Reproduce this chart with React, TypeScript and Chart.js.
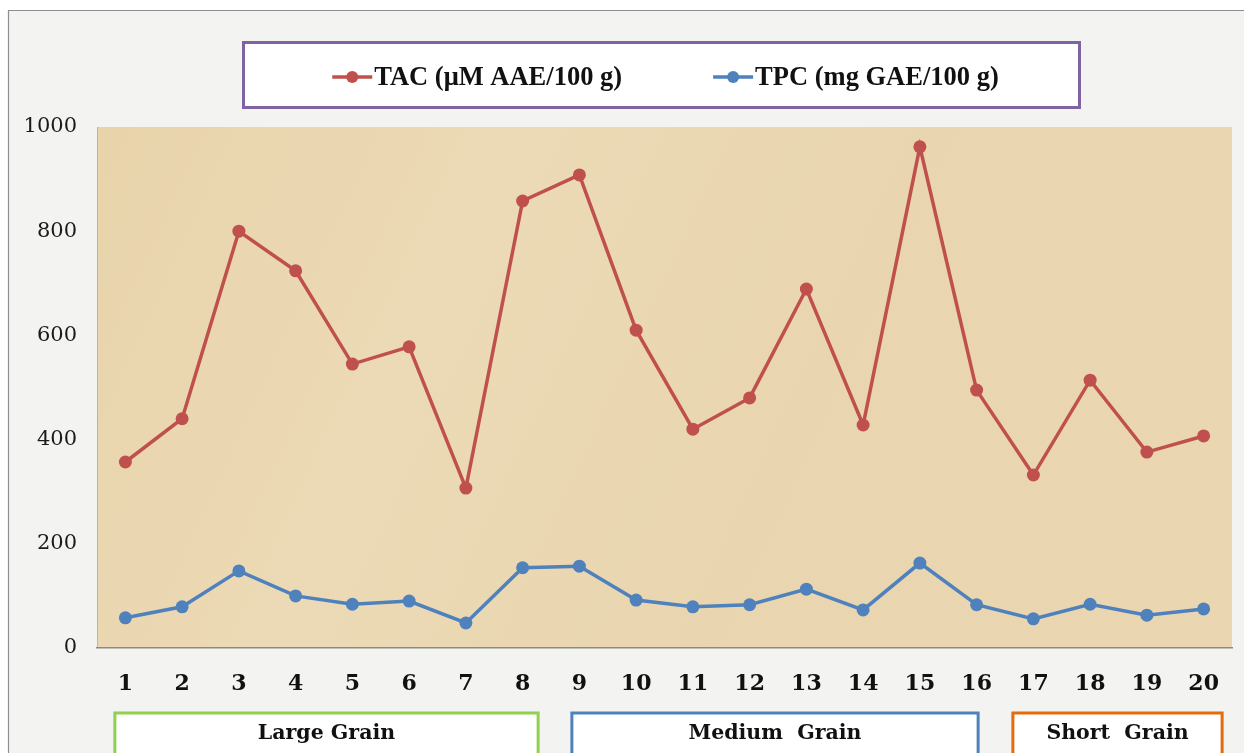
import React, { useEffect, useRef } from "react";
import { Chart, registerables } from "chart.js";

Chart.register(...registerables);

const categories = ["1", "2", "3", "4", "5", "6", "7", "8", "9", "10", "11", "12", "13", "14", "15", "16", "17", "18", "19", "20"];
const tacValues = [357, 440, 800, 724, 545, 578, 307, 858, 908, 610, 420, 480, 689, 428, 962, 495, 332, 514, 376, 407];
const tpcValues = [58, 79, 148, 100, 84, 90, 48, 154, 157, 92, 79, 83, 113, 73, 163, 83, 56, 84, 63, 75];
const yTicks = [0, 200, 400, 600, 800, 1000];
const seriesLabels = ["TAC (μM AAE/100 g)", "TPC (mg GAE/100 g)"];
const groupLabels = ["Large Grain", "Medium  Grain", "Short  Grain"];
const groupFirst = [0, 8, 16];
const groupLast = [7, 15, 19];

const RED = "#C0504D";
const BLUE = "#4F81BD";
const groupStyles = [
  { color: "#92D050", dl: -10.5, dr: 15.5 },
  { color: "#4F81BD", dl: -7.5, dr: 1.5 },
  { color: "#E46C0A", dl: -20.5, dr: 18.5 },
];

const backgroundPlugin = {
  id: "bgPanels",
  beforeDraw(chart: any) {
    const { ctx, chartArea, width, height } = chart;
    ctx.save();
    ctx.fillStyle = "#ffffff";
    ctx.fillRect(0, 0, width, height);
    ctx.fillStyle = "#F3F3F2";
    ctx.fillRect(8, 10, width - 8, height - 10);
    ctx.strokeStyle = "#8E8E8E";
    ctx.lineWidth = 1.2;
    ctx.beginPath();
    ctx.moveTo(8.5, height);
    ctx.lineTo(8.5, 10.5);
    ctx.lineTo(width, 10.5);
    ctx.stroke();
    const g = ctx.createLinearGradient(chartArea.left, chartArea.top, chartArea.right, chartArea.bottom);
    g.addColorStop(0, "#E8D3AA");
    g.addColorStop(0.3, "#ECDAB6");
    g.addColorStop(0.6, "#E9D6B0");
    g.addColorStop(1, "#EAD7B1");
    ctx.fillStyle = g;
    ctx.fillRect(chartArea.left, chartArea.top, chartArea.right - chartArea.left, chartArea.bottom - chartArea.top);
    ctx.strokeStyle = "rgba(190,170,130,0.8)";
    ctx.lineWidth = 1;
    ctx.beginPath();
    ctx.moveTo(chartArea.left + 0.5, chartArea.top);
    ctx.lineTo(chartArea.left + 0.5, chartArea.bottom);
    ctx.stroke();
    ctx.restore();
  },
};

const legendPlugin = {
  id: "boxLegend",
  afterDraw(chart: any) {
    const { ctx, chartArea } = chart;
    ctx.save();
    const cx = (chartArea.left + chartArea.right) / 2;
    const boxW = 836;
    const boxTop = 42.5;
    const boxH = 65;
    ctx.fillStyle = "#ffffff";
    ctx.fillRect(cx - 3 - boxW / 2, boxTop, boxW, boxH);
    ctx.strokeStyle = "#8064A2";
    ctx.lineWidth = 3;
    ctx.strokeRect(cx - 3 - boxW / 2, boxTop, boxW, boxH);

    ctx.font = "bold 26.5px 'Liberation Serif'";
    ctx.textBaseline = "middle";
    ctx.textAlign = "left";
    const lineLen = 40;
    const gapText = 2;
    const gapItem = 91;
    const items = chart.data.datasets.map((ds: any) => ({
      text: ds.label,
      color: ds.borderColor,
      w: ctx.measureText(ds.label).width,
    }));
    let total = 0;
    items.forEach((it: any, i: number) => {
      total += lineLen + gapText + it.w + (i > 0 ? gapItem : 0);
    });
    let x = cx + 1 - total / 2;
    const y = 77;
    items.forEach((it: any) => {
      ctx.strokeStyle = it.color;
      ctx.lineWidth = 3.5;
      ctx.beginPath();
      ctx.moveTo(x, y);
      ctx.lineTo(x + lineLen, y);
      ctx.stroke();
      ctx.fillStyle = it.color;
      ctx.beginPath();
      ctx.arc(x + lineLen / 2, y, 6, 0, Math.PI * 2);
      ctx.fill();
      ctx.fillStyle = "#111111";
      ctx.fillText(it.text, x + lineLen + gapText, y + 1);
      x += lineLen + gapText + it.w + gapItem;
    });
    ctx.restore();
  },
};

const groupPlugin = {
  id: "groupBoxes",
  afterDraw(chart: any) {
    const { ctx } = chart;
    const xs = chart.scales.x;
    ctx.save();
    ctx.font = "bold 20.5px 'DejaVu Serif'";
    ctx.textBaseline = "middle";
    ctx.textAlign = "center";
    groupLabels.forEach((lab, i) => {
      const st = groupStyles[i];
      const l = xs.getPixelForValue(groupFirst[i]) + st.dl;
      const r = xs.getPixelForValue(groupLast[i]) + st.dr;
      const top = 713;
      ctx.fillStyle = "#ffffff";
      ctx.fillRect(l, top, r - l, 60);
      ctx.strokeStyle = st.color;
      ctx.lineWidth = 3;
      ctx.strokeRect(l, top, r - l, 60);
      ctx.fillStyle = "#111111";
      ctx.fillText(lab, (l + r) / 2, 734);
    });
    ctx.restore();
  },
};

export default function App() {
  const canvasRef = useRef<HTMLCanvasElement | null>(null);

  useEffect(() => {
    if (!canvasRef.current) return;
    const chart = new Chart(canvasRef.current, {
      type: "line",
      data: {
        labels: categories,
        datasets: [
          {
            label: seriesLabels[0],
            data: tacValues,
            borderColor: RED,
            backgroundColor: RED,
            pointBackgroundColor: RED,
            pointBorderColor: RED,
            borderWidth: 3.5,
            pointRadius: 6.5,
            pointBorderWidth: 0,
            tension: 0,
          },
          {
            label: seriesLabels[1],
            data: tpcValues,
            borderColor: BLUE,
            backgroundColor: BLUE,
            pointBackgroundColor: BLUE,
            pointBorderColor: BLUE,
            borderWidth: 3.5,
            pointRadius: 6.5,
            pointBorderWidth: 0,
            tension: 0,
          },
        ],
      },
      options: {
        animation: false,
        responsive: false,
        layout: { padding: { top: 127, right: 12, left: 0, bottom: 0 } },
        plugins: {
          legend: { display: false },
          title: { display: false },
          tooltip: { enabled: false },
        },
        scales: {
          x: {
            offset: true,
            grid: { display: false, drawTicks: false },
            border: { display: true, color: "#8F8A80", width: 1.5 },
            ticks: {
              padding: 23,
              color: "#111111",
              font: { family: "'DejaVu Serif'", size: 22, weight: "bold" },
              maxRotation: 0,
              autoSkip: false,
            },
            afterFit: (s: any) => {
              s.height = 105;
            },
          },
          y: {
            min: yTicks[0],
            max: yTicks[yTicks.length - 1],
            grid: { display: false, drawTicks: false },
            border: { display: false },
            ticks: {
              stepSize: yTicks[1] - yTicks[0],
              padding: 20,
              color: "#1a1a1a",
              font: { family: "'DejaVu Serif'", size: 21 },
              callback: (v: any) => String(v),
            },
            afterFit: (s: any) => {
              s.width = 97;
            },
          },
        },
      },
      plugins: [backgroundPlugin, legendPlugin, groupPlugin],
    } as any);
    return () => chart.destroy();
  }, []);

  return (
    <div style={{ position: "absolute", left: 0, top: 0, width: 1244, height: 753, overflow: "hidden" }}>
      <canvas ref={canvasRef} width={1244} height={753} style={{ width: 1244, height: 753, display: "block" }} />
    </div>
  );
}
